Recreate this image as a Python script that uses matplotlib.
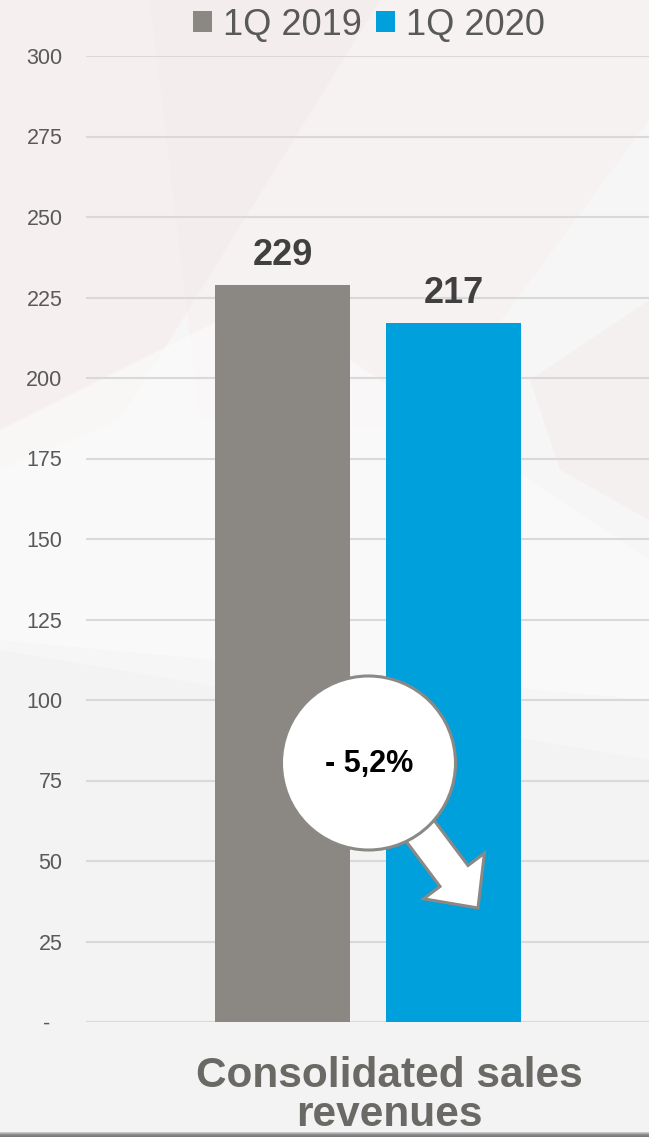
import matplotlib
matplotlib.use("Agg")
from matplotlib import pyplot as plt
from matplotlib.patches import Circle, FancyArrow, Polygon, Rectangle
import numpy as np

plt.rcParams['font.family'] = ['Liberation Sans', 'DejaVu Sans']

# data
series = ['1Q 2019', '1Q 2020']
values = [229, 217]
category = 'Consolidated sales\nrevenues'
change_label = '- 5,2%'
yticks = [0, 25, 50, 75, 100, 125, 150, 175, 200, 225, 250, 275, 300]
ytick_labels = ['-  '] + [str(t) for t in yticks[1:]]

colors = ['#8b8782', '#00a0dc']
text_grey = '#595959'

W, H = 649, 1137
fig = plt.figure(figsize=(W / 100, H / 100), dpi=100)
fig.patch.set_facecolor('#f7f6f6')

# faint background (blurred photo look)
bg = fig.add_axes([0, 0, 1, 1], zorder=0)
bg.set_xlim(0, W)
bg.set_ylim(H, 0)
bg.axis('off')
bg.add_patch(Polygon([[0, 0], [380, 0], [120, 420], [0, 470]], color='#f2e2e2', alpha=0.35, lw=0))
bg.add_patch(Polygon([[150, 0], [649, 0], [649, 120], [420, 430], [200, 420]], color='#f4e9e9', alpha=0.3, lw=0))
bg.add_patch(Polygon([[0, 430], [260, 300], [649, 560], [649, 700], [0, 640]], color='#fcfcfc', alpha=0.6, lw=0))
bg.add_patch(Polygon([[0, 650], [649, 760], [649, 1137], [0, 1137]], color='#efeeee', alpha=0.35, lw=0))
bg.add_patch(Polygon([[530, 380], [649, 300], [649, 520], [560, 470]], color='#f0e0e0', alpha=0.25, lw=0))
for i, c in enumerate(['#c8c8c8', '#a8a8a8', '#909090', '#808080', '#787878']):
    bg.add_patch(Rectangle((0, 1132 + i), W, 1, color=c, lw=0))

# main bar axes
ax = fig.add_axes([86 / W, (H - 1022) / H, 563 / W, 966 / H], zorder=1)
ax.patch.set_alpha(0)
U = 171.0  # px per x unit
offsets = [-0.5, 0.5]
bw = 135 / U
for off, v, c, s in zip(offsets, values, colors, series):
    ax.bar(off, v, width=bw, color=c, label=s, zorder=2)
    ax.annotate(str(v), xy=(off, v), xytext=(0, 14.4), textcoords='offset points',
                ha='center', va='baseline', fontsize=26, fontweight='bold', color='#404040')

ax.set_xlim(-282 / U, 281 / U)
ax.set_ylim(0, 300)
ax.set_yticks(yticks)
ax.set_yticklabels(ytick_labels)
ax.set_xticks([])
ax.tick_params(axis='y', length=0, pad=17, labelsize=15.5, labelcolor=text_grey)
ax.yaxis.grid(True, color='#d9d9d9', lw=1.5, zorder=0)
ax.set_axisbelow(True)
for sp in ax.spines.values():
    sp.set_visible(False)

leg = ax.legend(loc='center', bbox_to_anchor=(369 / W, 1 - 25 / H), bbox_transform=fig.transFigure,
                ncol=2, frameon=False, fontsize=26, handlelength=0.53, handleheight=0.5,
                handletextpad=0.3, columnspacing=0.4, borderpad=0)
for t in leg.get_texts():
    t.set_color(text_grey)

# category label
lines = category.split('\n')
fig.text(389 / W, 1 - 1087 / H, lines[0], ha='center', va='baseline', fontsize=30.5,
         fontweight='bold', color='#6b6965', zorder=2)
fig.text(389 / W, 1 - 1126 / H, lines[1], ha='center', va='baseline', fontsize=30.5,
         fontweight='bold', color='#6b6965', zorder=2)

# change badge
ov = fig.add_axes([0, 0, 1, 1], zorder=3)
ov.set_xlim(0, W)
ov.set_ylim(H, 0)
ov.axis('off')
tip = np.array([478, 908])
d = np.array([0.6, 0.8])
start = tip - 170 * d
ov.add_patch(FancyArrow(start[0], start[1], *(tip - start), width=35, head_width=76, head_length=40,
                        length_includes_head=True, fc='white', ec='#8b8985', lw=2.2, zorder=1))
ov.add_patch(Circle((368.5, 763), 87, fc='white', ec='#8b8985', lw=2.2, zorder=2))
ov.text(369, 772, change_label, ha='center', va='baseline', fontsize=22, fontweight='bold',
        color='black', zorder=3)

fig.savefig('out.png', dpi=100, facecolor=fig.get_facecolor())
